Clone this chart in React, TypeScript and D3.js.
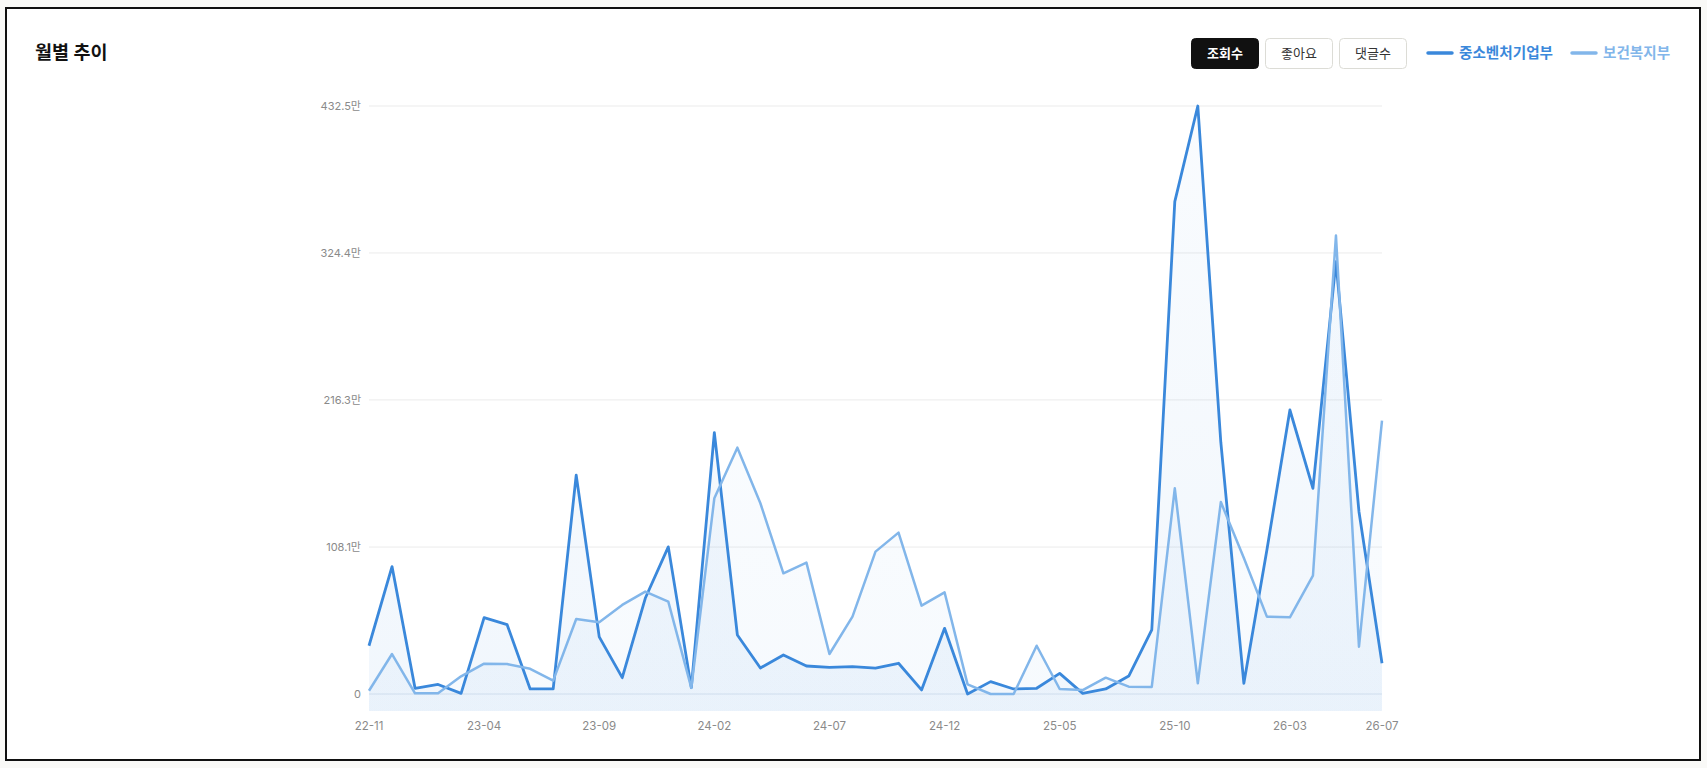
import * as d3 from "d3";

const months = [
  "22-11", "22-12", "23-01", "23-02", "23-03", "23-04", "23-05", "23-06", "23-07", "23-08",
  "23-09", "23-10", "23-11", "23-12", "24-01", "24-02", "24-03", "24-04", "24-05", "24-06",
  "24-07", "24-08", "24-09", "24-10", "24-11", "24-12", "25-01", "25-02", "25-03", "25-04",
  "25-05", "25-06", "25-07", "25-08", "25-09", "25-10", "25-11", "25-12", "26-01", "26-02",
  "26-03", "26-04", "26-05", "26-06", "26-07",
];

// 조회수, 단위: 만
const smeViews = [
  35.5, 93.7, 4.2, 7, 0.5, 56.2, 51, 3.7, 3.7, 161,
  42, 12, 70.4, 108.2, 4.7, 192.2, 43.4, 19.1, 28.7, 20.6,
  19.6, 20.1, 19.1, 22.6, 3, 48.3, 0, 9.1, 3.7, 4.2,
  15.2, 0.5, 3.7, 13.2, 47.1, 362.2, 432.5, 185, 7.9, 106,
  208.9, 151.3, 318, 134.1, 22.6,
];
const mohwViews = [
  2.4, 29.4, 0.5, 0.5, 13, 22.3, 22, 18.5, 9.8, 55.2,
  52.7, 65.5, 75.3, 67.9, 4.5, 144, 181.2, 140.3, 88.8, 96.6,
  29.4, 56.9, 104.7, 118.7, 65, 74.8, 7.1, 0, 0, 35.5,
  3.7, 2.9, 12, 5.4, 5.2, 151.3, 7.9, 141.2, 100, 56.9,
  56.4, 87, 337.2, 34.8, 201.1,
];

const xTickLabels = ["22-11", "23-04", "23-09", "24-02", "24-07", "24-12", "25-05", "25-10", "26-03", "26-07"];
const yTicks = [0, 108.1, 216.3, 324.4, 432.5];
const tabs = ["조회수", "좋아요", "댓글수"];

const series = [
  { name: "중소벤처기업부", values: smeViews, color: "#3a88db", width: 2.8 },
  { name: "보건복지부", values: mohwViews, color: "#82b6ea", width: 2.5 },
];

const FONT = "Inter, 'Noto Sans CJK KR', 'Noto Sans', sans-serif";

export default function App() {
  const left = 369;
  const right = 1382;
  const top = 106;
  const zeroY = 694;
  const plotBottom = 711;

  const x = d3.scalePoint<string>().domain(months).range([left, right]);
  const y = d3.scaleLinear().domain([0, 432.5]).range([zeroY, top]);

  const line = d3
    .line<number>()
    .x((_, i) => x(months[i]) as number)
    .y((d) => y(d));
  const area = d3
    .area<number>()
    .x((_, i) => x(months[i]) as number)
    .y0(plotBottom)
    .y1((d) => y(d));

  return (
    <div
      style={{
        position: "fixed",
        left: 0,
        top: 0,
        width: "100vw",
        height: "100vh",
        overflow: "hidden",
        background: "#f9f9f7",
      }}
    >
      <svg width={1707} height={768} style={{ display: "block", fontFamily: FONT }}>
        <defs>
          {series.map((s, i) => (
            <linearGradient key={i} id={`fill${i}`} x1="0" y1="0" x2="0" y2="1">
              <stop offset="0%" stopColor={s.color} stopOpacity={0.03} />
              <stop offset="100%" stopColor={s.color} stopOpacity={0.07} />
            </linearGradient>
          ))}
        </defs>

        {/* card frame */}
        <rect x={6} y={8} width={1694} height={752} fill="#fff" stroke="#111" strokeWidth={2} />

        <text x={35} y={59} fontSize={18.5} fontWeight={700} fill="#111">
          월별 추이
        </text>

        {/* tab buttons */}
        {tabs.map((t, i) => {
          const bx = 1191 + i * 74;
          const active = i === 0;
          return (
            <g key={t}>
              <rect
                x={bx + 0.5}
                y={38.5}
                width={67}
                height={30}
                rx={4}
                fill={active ? "#111" : "#fff"}
                stroke={active ? "#111" : "#dcdcd6"}
              />
              <text
                x={bx + 34}
                y={58}
                textAnchor="middle"
                fontSize={13}
                fontWeight={active ? 700 : 400}
                fill={active ? "#fff" : "#333"}
              >
                {t}
              </text>
            </g>
          );
        })}

        {/* legend */}
        {series.map((s, i) => {
          const lx = i === 0 ? 1428 : 1572;
          return (
            <g key={s.name}>
              <line x1={lx} x2={lx + 24} y1={53} y2={53} stroke={s.color} strokeWidth={3.5} strokeLinecap="round" />
              <text x={lx + 31} y={58} fontSize={14.6} fontWeight={700} fill={s.color}>
                {s.name}
              </text>
            </g>
          );
        })}

        {/* grid */}
        {yTicks.map((t) => (
          <g key={t}>
            <line
              x1={left}
              x2={right}
              y1={y(t)}
              y2={y(t)}
              stroke={t === 0 ? "#dfe6ee" : "#ebebeb"}
              strokeWidth={1}
            />
            <text x={361} y={y(t)} dy="0.35em" textAnchor="end" fontSize={11} fill="#8a8a8a">
              {t === 0 ? "0" : `${t}만`}
            </text>
          </g>
        ))}

        {/* areas */}
        {series.map((s, i) => (
          <path key={s.name} d={area(s.values) ?? ""} fill={`url(#fill${i})`} />
        ))}

        {/* lines */}
        {series.map((s) => (
          <path
            key={s.name}
            d={line(s.values) ?? ""}
            fill="none"
            stroke={s.color}
            strokeWidth={s.width}
            strokeLinejoin="round"
          />
        ))}

        {/* x axis labels */}
        {xTickLabels.map((m) => (
          <text key={m} x={x(m)} y={730} textAnchor="middle" fontSize={11.5} fill="#8a8a8a">
            {m}
          </text>
        ))}
      </svg>
    </div>
  );
}
